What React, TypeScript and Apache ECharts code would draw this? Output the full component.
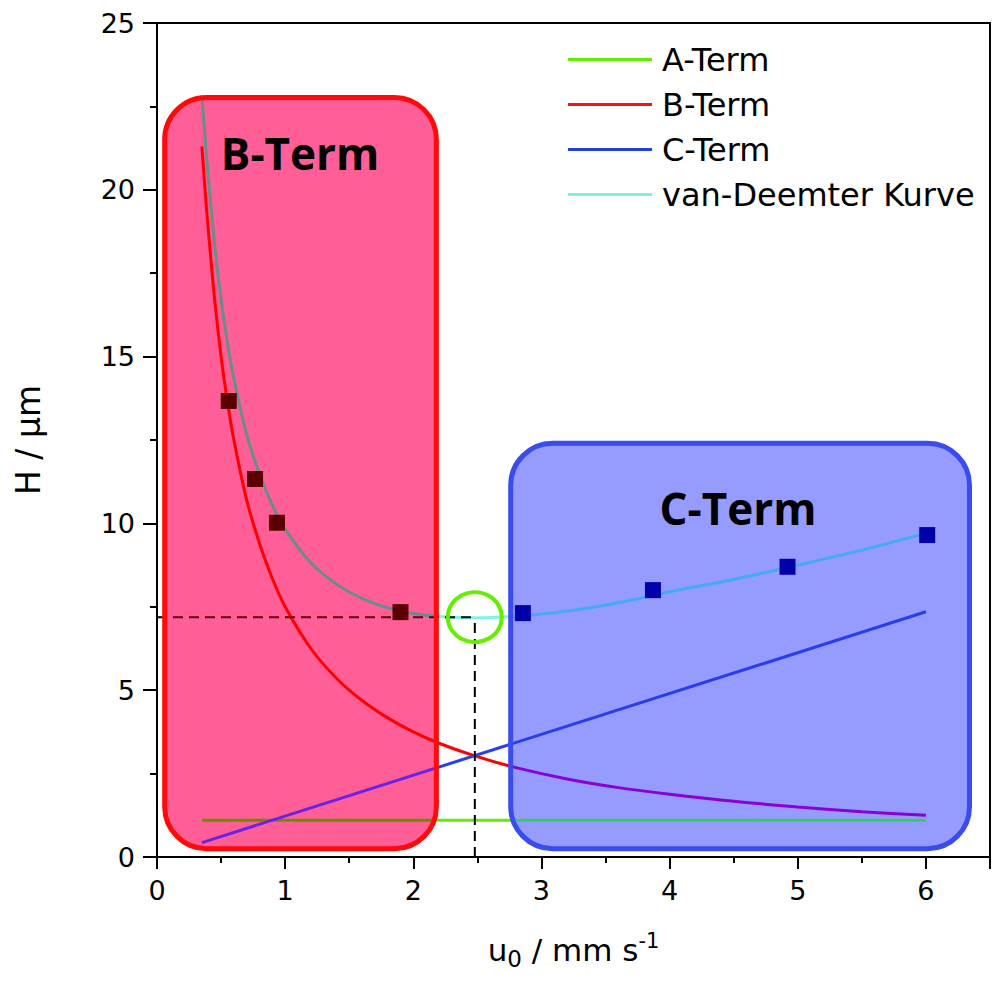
import React, { useEffect, useRef } from 'react';
import * as echarts from 'echarts';

// Curve sampling (u0 in mm/s) and read-off values (H in µm)
const uCurve = [0.35, 0.375, 0.4, 0.45, 0.5, 0.55, 0.6, 0.7, 0.8, 0.9, 1.0, 1.2, 1.4, 1.6, 1.8, 2.0, 2.2, 2.48, 2.8, 3.2, 3.6, 4.0, 4.5, 5.0, 5.5, 6.0];
const bTerm = [21.3, 20.0, 18.8, 16.7, 15.0, 13.64, 12.5, 10.7, 9.4, 8.35, 7.5, 6.25, 5.36, 4.69, 4.17, 3.75, 3.41, 3.03, 2.68, 2.34, 2.08, 1.88, 1.67, 1.5, 1.36, 1.25];
const vanDeemter = [22.83, 21.56, 20.39, 18.35, 16.71, 15.41, 14.34, 12.66, 11.48, 10.55, 9.83, 8.82, 8.18, 7.75, 7.47, 7.3, 7.21, 7.17, 7.22, 7.37, 7.62, 7.95, 8.32, 8.75, 9.2, 9.7];
const uLine = [0.35, 6.0];
const aTerm = [1.1, 1.1];
const cTerm = [0.43, 7.35];

// Measured points
const measuredUB = [0.56, 0.765, 0.936, 1.9];
const measuredHB = [13.67, 11.33, 10.02, 7.34];
const measuredUC = [2.855, 3.87, 4.92, 6.01];
const measuredHC = [7.31, 8.0, 8.7, 9.65];

// Minimum of the curve
const minU = 2.48;
const minH = 7.19;

// Highlighted regions (data units)
const regionLabels = ['B-Term', 'C-Term'];
const regionX0 = [0.06, 2.76];
const regionX1 = [2.18, 6.34];
const regionY0 = [0.25, 0.25];
const regionY1 = [22.77, 12.4];

// Axis ticks
const xTickInterval = 1;
const yTickInterval = 5;

const legendNames = ['A-Term', 'B-Term', 'C-Term', 'van-Deemter Kurve'];
const legendColors = ['#60ee00', '#ff1010', '#2040e0', '#80f0dc'];

const boxFills = ['#ff5e96', '#959bff'];
const boxStrokes = ['#ff0a0a', '#3a4cf0'];

const FONT = 'DejaVu Sans';

function zip(xs: number[], ys: number[]) {
  return xs.map((x, i) => [x, ys[i]]);
}

function regionVM(seriesIndex: number, cOut: string, cRed: string, cBlue: string) {
  return {
    type: 'piecewise',
    show: false,
    seriesIndex,
    dimension: 0,
    pieces: [
      { lt: regionX0[0], color: cOut },
      { gte: regionX0[0], lt: regionX1[0], color: cRed },
      { gte: regionX1[0], lt: regionX0[1], color: cOut },
      { gte: regionX0[1], color: cBlue },
    ],
  };
}

export default function App() {
  const ref = useRef<HTMLDivElement>(null);
  useEffect(() => {
    if (!ref.current) return;
    const chart = echarts.init(ref.current, undefined, { renderer: 'svg' });
    const regionData = regionX0.map((x0, i) => [x0, regionY0[i], regionX1[i], regionY1[i]]);
    const boxRender = (fill: boolean) => (params: any, api: any) => {
      const i = params.dataIndex;
      const p0 = api.coord([api.value(0), api.value(3)]);
      const p1 = api.coord([api.value(2), api.value(1)]);
      return {
        type: 'rect',
        shape: { x: p0[0], y: p0[1], width: p1[0] - p0[0], height: p1[1] - p0[1], r: 42 },
        style: fill
          ? { fill: boxFills[i], stroke: 'none' }
          : { fill: 'none', stroke: boxStrokes[i], lineWidth: 5 },
      };
    };
    const lineBase = (name: string, data: number[][], smooth: boolean) => ({
      type: 'line',
      name,
      data,
      smooth: smooth ? 0.35 : false,
      showSymbol: false,
      symbol: 'none',
      z: 2,
      lineStyle: { width: 3 },
      silent: true,
    });
    const option: any = {
      animation: false,
      grid: { left: 157, right: 10, top: 23, bottom: 132, show: true, borderColor: '#000', borderWidth: 2, containLabel: false, outerBoundsMode: 'none' },
      xAxis: {
        type: 'value',
        min: 0,
        max: 6.5,
        interval: xTickInterval,
        axisLine: { show: true, onZero: false, lineStyle: { color: '#000', width: 2 } },
        axisTick: { show: true, length: 12, lineStyle: { color: '#000', width: 2 } },
        minorTick: { show: true, splitNumber: 2, length: 6, lineStyle: { color: '#000', width: 2 } },
        splitLine: { show: false },
        minorSplitLine: { show: false },
        axisLabel: {
          margin: 20,
          fontSize: 27,
          fontFamily: FONT,
          color: '#000',
          formatter: (v: number) => (Number.isInteger(v) ? String(v) : ''),
        },
        name: '{n|u}{sub|0}{n| / mm s}{sup|-1}',
        nameLocation: 'middle',
        nameGap: 73,
        nameTextStyle: {
          rich: {
            n: { fontSize: 31, fontFamily: FONT, color: '#000', lineHeight: 40, verticalAlign: 'middle' },
            sub: { fontSize: 23, fontFamily: FONT, color: '#000', lineHeight: 23, verticalAlign: 'bottom' },
            sup: { fontSize: 21, fontFamily: FONT, color: '#000', lineHeight: 27, verticalAlign: 'top' },
          },
        },
      },
      yAxis: {
        type: 'value',
        min: 0,
        max: 25,
        interval: yTickInterval,
        axisLine: { show: true, onZero: false, lineStyle: { color: '#000', width: 2 } },
        axisTick: { show: true, length: 14, lineStyle: { color: '#000', width: 2 } },
        minorTick: { show: true, splitNumber: 2, length: 7, lineStyle: { color: '#000', width: 2 } },
        splitLine: { show: false },
        minorSplitLine: { show: false },
        axisLabel: { margin: 22, fontSize: 27, fontFamily: FONT, color: '#000' },
        name: 'H / µm',
        nameLocation: 'middle',
        nameRotate: 90,
        nameGap: 112,
        nameTextStyle: { fontSize: 33, fontFamily: FONT, color: '#000' },
      },
      legend: {
        show: true,
        orient: 'vertical',
        left: 568,
        top: 37,
        icon: 'rect',
        itemWidth: 84,
        itemHeight: 3,
        itemGap: 0,
        selectedMode: false,
        padding: 0,
        textStyle: { fontSize: 32, fontFamily: FONT, color: '#000', lineHeight: 45, padding: [0, 0, 0, 5] },
        data: legendNames.map((n, i) => ({ name: n, itemStyle: { color: legendColors[i] } })),
      },
      visualMap: [
        regionVM(1, '#60ee00', '#708a00', '#33cc66'),
        regionVM(2, '#ff0000', '#ff0000', '#8a00d8'),
        regionVM(3, '#2a40f0', '#6a22e6', '#2a3cf0'),
        regionVM(4, '#7ff5e0', '#6a8c8a', '#44aaf8'),
        regionVM(5, '#000000', '#5c0000', '#000000'),
      ],
      series: [
        {
          type: 'custom',
          name: 'regionFill',
          data: regionData,
          encode: { x: [0, 2], y: [1, 3] },
          renderItem: boxRender(true),
          z: 1,
          silent: true,
        },
        lineBase('A-Term', zip(uLine, aTerm), false),
        lineBase('B-Term', zip(uCurve, bTerm), true),
        lineBase('C-Term', zip(uLine, cTerm), false),
        lineBase('van-Deemter Kurve', zip(uCurve, vanDeemter), true),
        {
          type: 'line',
          name: 'minH',
          data: [[0, minH], [minU, minH]],
          showSymbol: false,
          symbol: 'none',
          z: 2,
          lineStyle: { width: 2, type: [10, 6] },
          silent: true,
        },
        {
          type: 'line',
          name: 'minU',
          data: [[minU, 0], [minU, minH]],
          showSymbol: false,
          symbol: 'none',
          z: 2,
          lineStyle: { width: 2, type: [10, 6], color: '#000' },
          itemStyle: { color: '#000' },
          silent: true,
        },
        {
          type: 'custom',
          name: 'regionBorder',
          data: regionData,
          encode: { x: [0, 2], y: [1, 3] },
          renderItem: boxRender(false),
          z: 3,
          silent: true,
        },
        {
          type: 'scatter',
          name: 'measuredB',
          data: zip(measuredUB, measuredHB),
          symbol: 'rect',
          symbolSize: 16,
          itemStyle: { color: '#5a0000', opacity: 1 },
          z: 5,
          silent: true,
        },
        {
          type: 'scatter',
          name: 'measuredC',
          data: zip(measuredUC, measuredHC),
          symbol: 'rect',
          symbolSize: 16,
          itemStyle: { color: '#0000aa', opacity: 1 },
          z: 5,
          silent: true,
        },
        {
          type: 'scatter',
          name: 'minimum',
          data: [[minU, minH]],
          symbol: 'circle',
          symbolSize: [54, 50],
          itemStyle: { color: 'rgba(0,0,0,0)', borderColor: '#66ee00', borderWidth: 4, opacity: 1 },
          z: 5,
          silent: true,
        },
      ],
      graphic: [
        {
          type: 'text',
          x: 300,
          y: 153,
          z: 10,
          silent: true,
          style: {
            text: regionLabels[0],
            fill: '#000',
            fontFamily: 'Open Sans',
            fontWeight: 'bold',
            fontSize: 44,
            align: 'center',
            verticalAlign: 'middle',
            textAlign: 'center',
            textVerticalAlign: 'middle',
          },
        },
        {
          type: 'text',
          x: 738,
          y: 508,
          z: 10,
          silent: true,
          style: {
            text: regionLabels[1],
            fill: '#000',
            fontFamily: 'Open Sans',
            fontWeight: 'bold',
            fontSize: 44,
            align: 'center',
            verticalAlign: 'middle',
            textAlign: 'center',
            textVerticalAlign: 'middle',
          },
        },
      ],
    };
    chart.setOption(option);
    return () => chart.dispose();
  }, []);
  return (
    <div
      ref={ref}
      style={{ position: 'absolute', left: 0, top: 0, width: 1000, height: 989, background: '#fff' }}
    />
  );
}
